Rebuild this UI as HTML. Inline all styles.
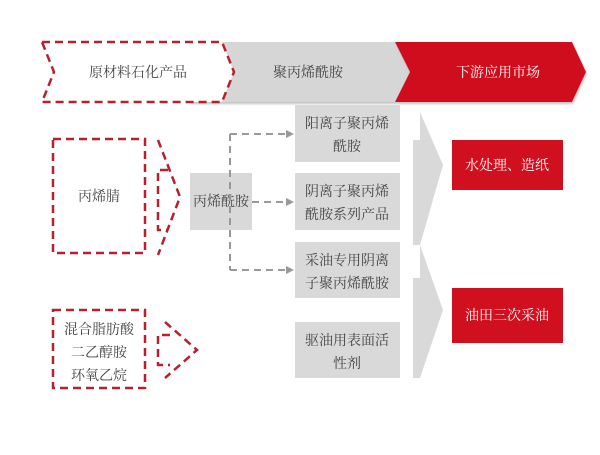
<!DOCTYPE html>
<html><head><meta charset="utf-8"><style>
body{margin:0;background:#fff;width:600px;height:450px;overflow:hidden}
svg text{font-family:"Liberation Serif","Noto Serif CJK SC",serif;font-size:14px;fill:#444}
</style></head><body>
<svg width="600" height="450" viewBox="0 0 600 450">
<defs><filter id="s"><feDropShadow dx="1" dy="2" stdDeviation="1" flood-color="#999" flood-opacity="0.6"/></filter></defs>
<polygon points="190,42 395,42 410,72 395,102 190,102 205,72" fill="#d6d6d6" filter="url(#s)"/>
<polygon points="395,42 572,42 586,72 572,102 395,102 410,72" fill="#d0101f" filter="url(#s)"/>
<polygon points="42,42 222,42 234,72 222,102 42,102 54,72" fill="#fff" stroke="#b8202e" stroke-width="2.5" stroke-dasharray="8,5"/>
<text x="138" y="77" text-anchor="middle">原材料石化产品</text>
<text x="308" y="77" text-anchor="middle">聚丙烯酰胺</text>
<text x="498" y="77" text-anchor="middle" style="fill:#fff">下游应用市场</text>
<rect x="53" y="139" width="92" height="114" fill="#fff" stroke="#b8202e" stroke-width="2.5" stroke-dasharray="8,5"/>
<text x="99" y="201" text-anchor="middle">丙烯腈</text>
<polyline points="158,140 180,197 158,255" fill="none" stroke="#b8202e" stroke-width="2.5" stroke-dasharray="8,5"/>
<polyline points="168,170 158,170 158,230 168,230" fill="none" stroke="#b8202e" stroke-width="2.5" stroke-dasharray="8,5"/>
<rect x="190" y="173" width="62" height="57" fill="#d9d9d9"/>
<text x="221" y="206" text-anchor="middle">丙烯酰胺</text>
<rect x="53" y="310" width="92" height="78" fill="#fff" stroke="#b8202e" stroke-width="2.5" stroke-dasharray="8,5"/>
<text x="99" y="334" text-anchor="middle">混合脂肪酸</text>
<text x="99" y="357" text-anchor="middle">二乙醇胺</text>
<text x="99" y="380" text-anchor="middle">环氧乙烷</text>
<polyline points="165,322 197,350 165,378" fill="none" stroke="#b8202e" stroke-width="2.5" stroke-dasharray="8,5"/>
<polyline points="170,335 158,335 158,365 170,365" fill="none" stroke="#b8202e" stroke-width="2.5" stroke-dasharray="8,5"/>
<g stroke="#999" stroke-width="2" stroke-dasharray="7,5" fill="none">
<line x1="230" y1="134" x2="230" y2="270"/>
<line x1="230" y1="134" x2="286" y2="134"/>
<line x1="252" y1="202" x2="286" y2="202"/>
<line x1="230" y1="270" x2="286" y2="270"/>
</g>
<g fill="#999"><polygon points="286,130 294,134 286,138"/><polygon points="286,198 294,202 286,206"/><polygon points="286,266 294,270 286,274"/></g>
<g fill="#d9d9d9"><rect x="295" y="105" width="105" height="57"/><rect x="295" y="173" width="105" height="57"/><rect x="295" y="242" width="105" height="56"/><rect x="295" y="322" width="105" height="56"/></g>
<text x="347" y="128" text-anchor="middle">阳离子聚丙烯</text><text x="347" y="151" text-anchor="middle">酰胺</text>
<text x="347" y="196" text-anchor="middle">阴离子聚丙烯</text><text x="347" y="219" text-anchor="middle">酰胺系列产品</text>
<text x="347" y="265" text-anchor="middle">采油专用阴离</text><text x="347" y="288" text-anchor="middle">子聚丙烯酰胺</text>
<text x="347" y="345" text-anchor="middle">驱油用表面活</text><text x="347" y="368" text-anchor="middle">性剂</text>
<polygon points="413,140 420,140 420,112 443,165 420,245 413,245" fill="#d9d9d9"/>
<polygon points="413,278 420,278 420,245 443,310 420,378 413,378" fill="#d9d9d9"/>
<rect x="452" y="140" width="111" height="50" fill="#d0101f"/>
<rect x="452" y="288" width="111" height="55" fill="#d0101f"/>
<text x="507" y="170" text-anchor="middle" style="fill:#fff">水处理、造纸</text>
<text x="507" y="320" text-anchor="middle" style="fill:#fff">油田三次采油</text>
</svg>
</body></html>
